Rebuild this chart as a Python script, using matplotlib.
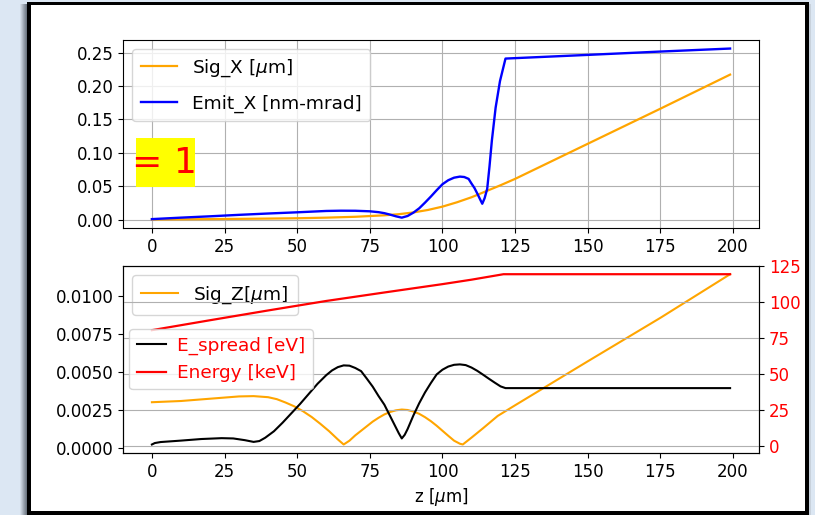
import matplotlib
matplotlib.use("Agg")
import matplotlib.pyplot as plt
from matplotlib.patches import Rectangle
from matplotlib.ticker import MultipleLocator, FormatStrFormatter

# ---- transverse beam size and emittance ----
z_sigx = [0, 10, 20, 30, 40, 50, 60, 70, 80, 85, 90, 95, 100, 105, 110, 115,
          120, 125, 150, 175, 199]
sig_x = [0.0003, 0.0005, 0.0008, 0.0012, 0.0016, 0.0021, 0.0030, 0.0043, 0.0065,
         0.0082, 0.0108, 0.0145, 0.0195, 0.0260, 0.0335, 0.0425, 0.0515, 0.0610,
         0.1135, 0.1660, 0.2170]

z_emit = [0, 10, 20, 30, 40, 50, 55, 60, 65, 70, 75, 78, 80, 82, 84, 86, 88, 90,
          92, 94, 96, 98, 100, 102, 104, 106, 107.5, 109, 110, 111, 112, 113,
          113.7, 114.5, 115.4, 116.2, 117, 118.3, 119.8, 121.7, 150, 175, 199]
emit_x = [0.0008, 0.0030, 0.0050, 0.0072, 0.0092, 0.0110, 0.0120, 0.0130, 0.0134,
          0.0133, 0.0125, 0.0112, 0.0097, 0.0075, 0.0050, 0.0030, 0.0055, 0.0105,
          0.0170, 0.0255, 0.0345, 0.0440, 0.0530, 0.0590, 0.0628, 0.0644, 0.0638,
          0.0610, 0.0540, 0.0475, 0.0390, 0.0300, 0.0238, 0.0320, 0.0461, 0.0800,
          0.1180, 0.1676, 0.2073, 0.2410, 0.2465, 0.2515, 0.2560]

# ---- longitudinal size, energy spread and energy ----
z_sigz = [0, 10, 20, 30, 35, 40, 43, 46, 49, 52, 55, 58, 61, 64, 66, 68, 70, 72,
          74, 76, 78, 80, 82, 84, 86, 88, 90, 92, 94, 96, 98, 100, 102, 104, 106,
          107, 110, 114, 119, 125, 150, 175, 199]
sig_z = [0.00302, 0.00310, 0.00325, 0.00340, 0.00342, 0.00335, 0.00322, 0.00300,
         0.00275, 0.00243, 0.00205, 0.00160, 0.00112, 0.00058, 0.00025, 0.00050,
         0.00085, 0.00115, 0.00145, 0.00175, 0.00200, 0.00222, 0.00238, 0.00249,
         0.00254, 0.00251, 0.00241, 0.00226, 0.00204, 0.00178, 0.00148, 0.00115,
         0.00082, 0.00050, 0.00030, 0.00025, 0.00070, 0.00132, 0.00212, 0.00282,
         0.00570, 0.00855, 0.01141]

z_espread = [0, 1, 3, 10, 17, 24, 28, 32, 35, 37, 39, 42, 45, 48, 51, 54, 57, 60,
             62, 64, 66, 68, 70, 72, 74, 76, 78, 80, 82, 84, 85, 86, 87, 88, 90,
             92, 94, 96, 98, 100, 102, 104, 106, 108, 110, 112, 114, 116, 118, 120,
             121.7, 199]
e_spread = [0.8, 1.8, 2.5, 3.5, 4.6, 5.2, 5.0, 3.8, 2.6, 3.2, 5.5, 10.0, 16.0,
            22.5, 29.0, 36.0, 43.0, 49.0, 52.3, 54.6, 55.8, 55.6, 54.0, 51.8, 46.5,
            41.0, 34.5, 28.5, 20.5, 12.5, 8.5, 5.0, 7.5, 11.5, 21.0, 29.5, 37.0,
            43.5, 49.5, 52.8, 55.0, 56.2, 56.5, 56.0, 54.3, 52.0, 49.3, 46.5, 43.8,
            41.2, 40.0, 40.0]

z_energy = [0, 20, 40, 60, 80, 100, 110, 121, 199]
energy = [80.3, 87.2, 94.0, 100.6, 106.5, 112.3, 115.4, 119.2, 119.2]

W, H = 815, 515
fig = plt.figure(figsize=(W / 100, H / 100), dpi=100)
fig.patch.set_facecolor("#dce7f3")


def frac_rect(x0, y0, x1, y1):
    """Pixel box (top-left origin) -> figure-fraction rectangle args."""
    return (x0 / W, 1 - y1 / H), (x1 - x0) / W, (y1 - y0) / H


# window shadow, frame and white canvas
shadow = ["#d2dce7", "#c3ccd7", "#b2bbc6", "#a0a9b4", "#8f98a3", "#7f8893", "#6e7782"]
for i, c in enumerate(shadow):
    xy, w, h = frac_rect(20 + i, 4, 21 + i, 515)
    fig.add_artist(Rectangle(xy, w, h, transform=fig.transFigure,
                             facecolor=c, edgecolor="none", zorder=-3))
xy, w, h = frac_rect(809, 4, 811, 515)
fig.add_artist(Rectangle(xy, w, h, transform=fig.transFigure,
                         facecolor="#c9d2dc", edgecolor="none", zorder=-3))
xy, w, h = frac_rect(27, 2, 809, 515)
fig.add_artist(Rectangle(xy, w, h, transform=fig.transFigure,
                         facecolor="black", edgecolor="none", zorder=-2))
xy, w, h = frac_rect(31, 5, 805, 511)
fig.add_artist(Rectangle(xy, w, h, transform=fig.transFigure,
                         facecolor="white", edgecolor="none", zorder=-1))

FS = 12
LFS = 13.3
plt.rcParams["font.size"] = FS

# ---- top panel ----
ax1 = fig.add_axes([123 / W, 1 - 228 / H, 636 / W, 188 / H])
ax1.plot(z_sigx, sig_x, color="orange", lw=1.6, label=r"Sig_X [$\mu$m]")
ax1.plot(z_emit, emit_x, color="blue", lw=1.7, label="Emit_X [nm-mrad]")
ax1.xaxis.set_major_locator(MultipleLocator(25))
ax1.yaxis.set_major_locator(MultipleLocator(0.05))
ax1.yaxis.set_major_formatter(FormatStrFormatter("%.2f"))
ax1.tick_params(labelsize=FS)
ax1.grid(True)
ax1.legend(loc="upper left", fontsize=LFS, labelspacing=0.85, borderpad=0.45)

# highlighted marker label
box = Rectangle((13 / 636, 41 / 188), 59 / 636, 49 / 188, transform=ax1.transAxes,
                facecolor="yellow", edgecolor="none", zorder=4)
ax1.add_patch(box)
lbl = ax1.text(9.2 / 636, 55 / 188, "= 1", transform=ax1.transAxes, fontsize=26,
               color="red", ha="left", va="baseline", zorder=5)
lbl.set_clip_path(box)

# ---- bottom panel ----
ax3 = fig.add_axes([123 / W, 1 - 453 / H, 636 / W, 187.3 / H])
ax3.plot(z_sigz, sig_z, color="orange", lw=1.5, label=r"Sig_Z[$\mu$m]")
ax3.xaxis.set_major_locator(MultipleLocator(25))
ax3.yaxis.set_major_locator(MultipleLocator(0.0025))
ax3.yaxis.set_major_formatter(FormatStrFormatter("%.4f"))
ax3.tick_params(labelsize=FS)
ax3.set_xlabel(r"z [$\mu$m]", fontsize=FS)
ax3.legend(loc="upper left", fontsize=LFS, borderpad=0.5)

ax4 = ax3.twinx()
ax4.plot(z_espread, e_spread, color="black", lw=1.5, label="E_spread [eV]")
ax4.plot(z_energy, energy, color="red", lw=1.6, label="Energy [keV]")
ax4.yaxis.set_major_locator(MultipleLocator(25))
ax4.tick_params(axis="y", labelcolor="red", labelsize=FS)
ax4.grid(True)
ax4.legend(loc="center left", fontsize=LFS, labelcolor="red", borderaxespad=0.35,
           handlelength=1.6, handletextpad=0.6)

fig.savefig("out.png", dpi=100, facecolor=fig.get_facecolor())
